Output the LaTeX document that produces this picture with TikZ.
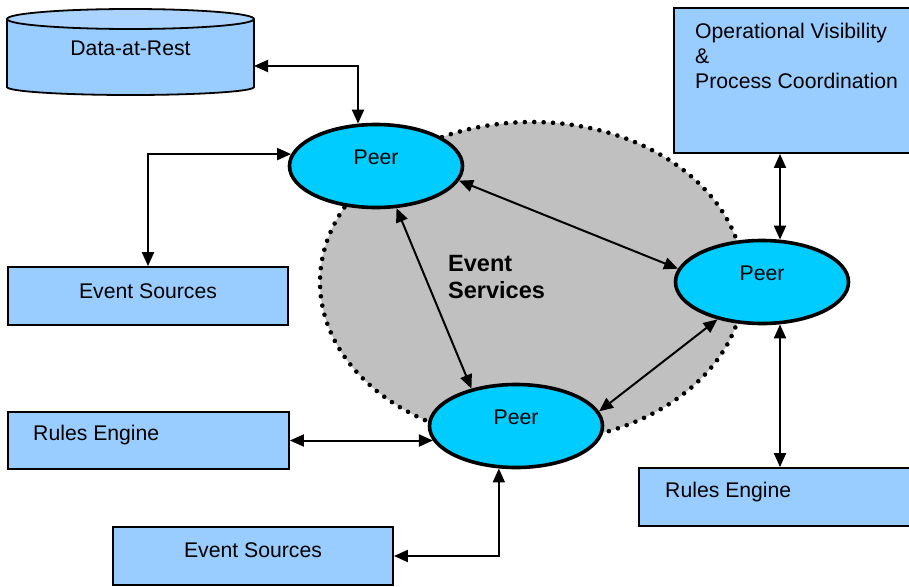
\documentclass[tikz,border=0pt]{standalone}
\usepackage{fontspec}
\setmainfont{Liberation Sans}
\usetikzlibrary{shapes.geometric,arrows.meta}
\definecolor{boxblue}{HTML}{99CCFF}
\definecolor{boxtop}{HTML}{AAD4FF}
\definecolor{peercyan}{HTML}{00CCFF}
\definecolor{cloudgray}{HTML}{C0C0C0}
\tikzset{
  box/.style={draw, line width=1.8pt, fill=boxblue, inner sep=0pt},
  peer/.style={ellipse, draw, line width=3.6pt, fill=peercyan,
    minimum width=173pt, minimum height=83pt, inner sep=0pt,
    label={[yshift=9pt, font=\fontsize{21.2}{25}\selectfont]center:Peer}},
  txt/.style={font=\fontsize{21.2}{25}\selectfont, inner sep=0pt},
  link/.style={line width=2pt, {Triangle[length=14pt,width=12pt]}-{Triangle[length=14pt,width=12pt]}}
}
\begin{document}
\begin{tikzpicture}[x=1pt, y=-1pt]
\useasboundingbox (0,0) rectangle (909,586);

% event services cloud
\draw[fill=cloudgray, line width=4.6pt, line cap=round, dash pattern=on 0pt off 9.4pt]
  (532,282) ellipse [x radius=212pt, y radius=160pt];
\node[font=\bfseries\fontsize{23.5}{27.5}\selectfont, align=left, inner sep=0pt, anchor=west]
  (evs) at (448,277) {Event\\Services};

% data-at-rest store
\fill[boxblue] (7,19) rectangle (254,87);
\fill[boxblue] (130.5,87) ellipse [x radius=123.5pt, y radius=8pt];
\begin{scope}
  \clip (0,87) rectangle (260,100);
  \draw[line width=1.8pt] (130.5,87) ellipse [x radius=123.5pt, y radius=8pt];
\end{scope}
\draw[line width=1.8pt] (7,19) -- (7,87) (254,19) -- (254,87);
\draw[line width=1.8pt, fill=boxtop] (130.5,19) ellipse [x radius=123.5pt, y radius=10pt];
\node[txt] (dar) at (130.5,48) {Data-at-Rest};
\coordinate (darport) at (254,66);

% peers
\node[peer] (p1) at (376,166) {};
\node[peer] (p2) at (762,282) {};
\node[peer] (p3) at (516,426) {};

% boxes
\node[box, minimum width=241pt, minimum height=145pt] (op) at (794.5,80.5) {};
\node[txt, align=left, anchor=west] (optxt) at (695,56)
  {Operational Visibility\\\&\\Process Coordination};

\node[box, minimum width=280pt, minimum height=58pt] (es1) at (148,296) {};
\node[txt] (es1txt) at (148,291) {Event Sources};

\node[box, minimum width=281pt, minimum height=57pt] (re1) at (148.5,440.5) {};
\node[txt, anchor=west] (re1txt) at (33,435) {Rules Engine};

\node[box, minimum width=280pt, minimum height=58pt] (es2) at (253,556) {};
\node[txt] (es2txt) at (253,550) {Event Sources};

\node[box, minimum width=276pt, minimum height=58pt] (re2) at (777,497) {};
\node[txt, anchor=west] (re2txt) at (665,492) {Rules Engine};

% connectors
\draw[link] (darport) -| (p1.113);
\draw[link] (es1.north) |- (p1.172);
\draw[link] (re1.east) -- (re1.east -| p3.190);
\draw[link] (es2.east) -| (p3.-112);
\draw[link] (p2.67 |- op.south) -- (p2.67);
\draw[link] (p2.-67) -- (p2.-67 |- re2.north);
\draw[link] (p1.-10) -- (p2.171);
\draw[link] (p1.-64) -- (p3.140);
\draw[link] (p2.-140) -- (p3.10);
\end{tikzpicture}
\end{document}
